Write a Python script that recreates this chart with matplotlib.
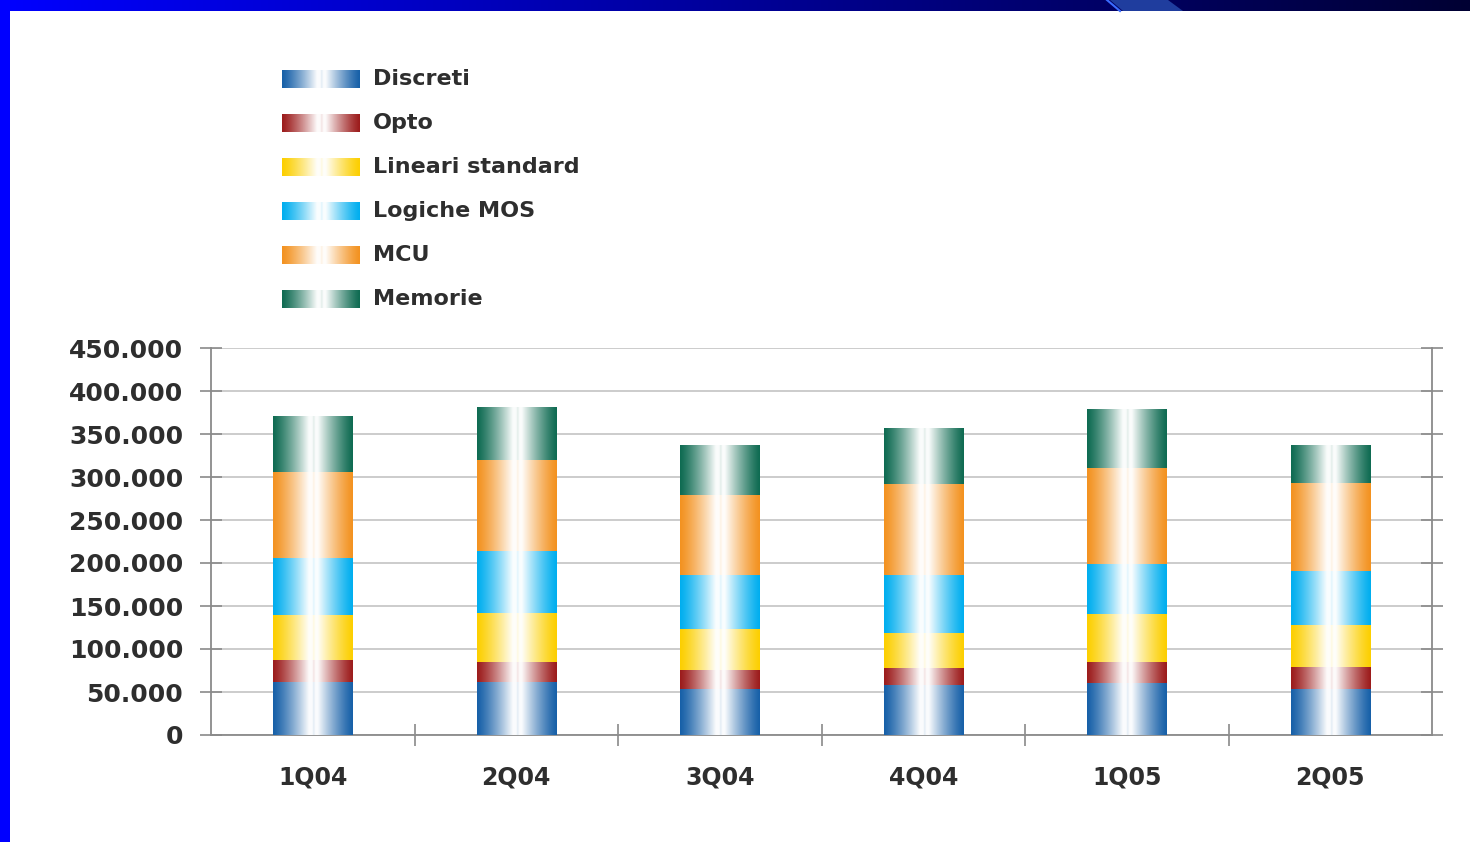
import numpy as np
import matplotlib
matplotlib.use("Agg")
import matplotlib.pyplot as plt
from matplotlib.colors import to_rgb
from matplotlib.patches import Polygon, Rectangle

# ---------------- data ----------------
quarters = ["1Q04", "2Q04", "3Q04", "4Q04", "1Q05", "2Q05"]
series_names = ["Discreti", "Opto", "Lineari standard", "Logiche MOS", "MCU", "Memorie"]
discreti = [62000, 62000, 54000, 58000, 61000, 53500]
opto = [25000, 23000, 22000, 20000, 24000, 25000]
lineari = [53000, 57000, 47000, 41000, 56000, 49000]
logiche = [66000, 72000, 63000, 67000, 58000, 63000]
mcu = [100000, 105500, 93000, 105500, 111000, 102500]
memorie = [65000, 61000, 57000, 64000, 68000, 44000]
ytick_values = [0, 50000, 100000, 150000, 200000, 250000, 300000, 350000, 400000, 450000]
ytick_labels = ["0", "50.000", "100.000", "150.000", "200.000", "250.000",
                "300.000", "350.000", "400.000", "450.000"]

series_values = [discreti, opto, lineari, logiche, mcu, memorie]
series_colors = ["#1760a8", "#9c1c1c", "#fccf00", "#00aeef", "#f39220", "#0f6b52"]

W, H = 1470, 842
fig = plt.figure(figsize=(W / 100, H / 100), dpi=100)
fig.patch.set_facecolor("white")


def whiteness(u):
    left = np.clip(u / 0.45, 0, 1) ** 1.25
    right = np.clip((1 - u) / 0.44, 0, 1) ** 1.25
    w = np.minimum(left, right) * 0.98
    dip = 0.10 * np.exp(-((u - 0.51) / 0.012) ** 2)
    return np.clip(w - dip, 0, 1)


def gradient_img(color, n=200):
    u = np.linspace(0, 1, n)
    w = whiteness(u)[:, None]
    base = np.array(to_rgb(color))[None, :]
    rgb = base * (1 - w) + np.ones(3)[None, :] * w
    return rgb[None, :, :]


TEXT = "#2e2e2e"

# ---------------- main chart ----------------
x0, x1, y0, y1 = 211, 1432, 348, 735
ax = fig.add_axes([x0 / W, 1 - y1 / H, (x1 - x0) / W, (y1 - y0) / H])
x = np.arange(len(quarters))
bottoms = np.zeros(len(quarters))
for name, vals, col in zip(series_names, series_values, series_colors):
    bars = ax.bar(x, vals, width=0.39, bottom=bottoms, color=col, linewidth=0, zorder=2)
    for rect in bars:
        bx, by = rect.get_x(), rect.get_y()
        bw, bh = rect.get_width(), rect.get_height()
        ax.imshow(gradient_img(col), extent=(bx, bx + bw, by, by + bh),
                  aspect="auto", interpolation="bilinear", zorder=3)
    bottoms += np.array(vals)

ax.set_xlim(-0.5, len(quarters) - 0.5)
ax.set_ylim(0, 450000)
ax.set_yticks(ytick_values)
ax.set_yticklabels(ytick_labels, fontweight="bold")
ax.set_xticks(x)
ax.set_xticklabels(quarters, fontweight="bold")
ax.set_xticks(np.arange(0.5, len(quarters) - 1, 1), minor=True)
ax.yaxis.grid(True, color="#c8c8c8", linewidth=1.3, zorder=1)
ax.set_axisbelow(True)

for s in ["left", "right", "bottom"]:
    ax.spines[s].set_color("#8a8a8a")
    ax.spines[s].set_linewidth(1.3)
ax.spines["top"].set_visible(False)

ax.tick_params(axis="y", which="major", direction="inout", length=16, width=1.2,
               color="#8a8a8a", right=True, labelright=False, pad=12,
               labelsize=18, labelcolor=TEXT)
ax.tick_params(axis="x", which="major", length=0, pad=22, labelsize=17,
               labelcolor=TEXT)
ax.tick_params(axis="x", which="minor", direction="inout", length=16, width=1.2,
               color="#8a8a8a")

# ---------------- decorations & legend (pixel overlay) ----------------
ov = fig.add_axes([0, 0, 1, 1])
ov.set_xlim(0, W)
ov.set_ylim(H, 0)
ov.set_axis_off()

banner = np.linspace(0, 1, 400)
c_left = np.array([0, 0, 1.0])
c_right = np.array([0, 0, 0.2])
banner_rgb = (c_left[None, :] * (1 - banner[:, None]) + c_right[None, :] * banner[:, None])[None, :, :]
ov.imshow(banner_rgb, extent=(0, W, 11, 0), aspect="auto", interpolation="bilinear", zorder=1)
ov.add_patch(Polygon([(1110, 0), (1168, 0), (1183, 11), (1123, 11)], closed=True,
                     facecolor="#1f3d9e", edgecolor="none", zorder=2))
ov.plot([1107, 1120], [0, 11], color="#3a6cff", linewidth=1.5, zorder=3)
ov.add_patch(Rectangle((0, 0), 10, H, facecolor="#0000ff", edgecolor="none", zorder=4))

for i, (name, col) in enumerate(zip(series_names, series_colors)):
    yc = 79 + i * 44
    ov.imshow(gradient_img(col), extent=(282, 360, yc + 9, yc - 9),
              aspect="auto", interpolation="bilinear", zorder=2)
    ov.text(373, yc, name, fontsize=16, fontweight="bold", color=TEXT,
            va="center", ha="left")

ov.set_xlim(0, W)
ov.set_ylim(H, 0)

fig.savefig("out.png", dpi=100)
